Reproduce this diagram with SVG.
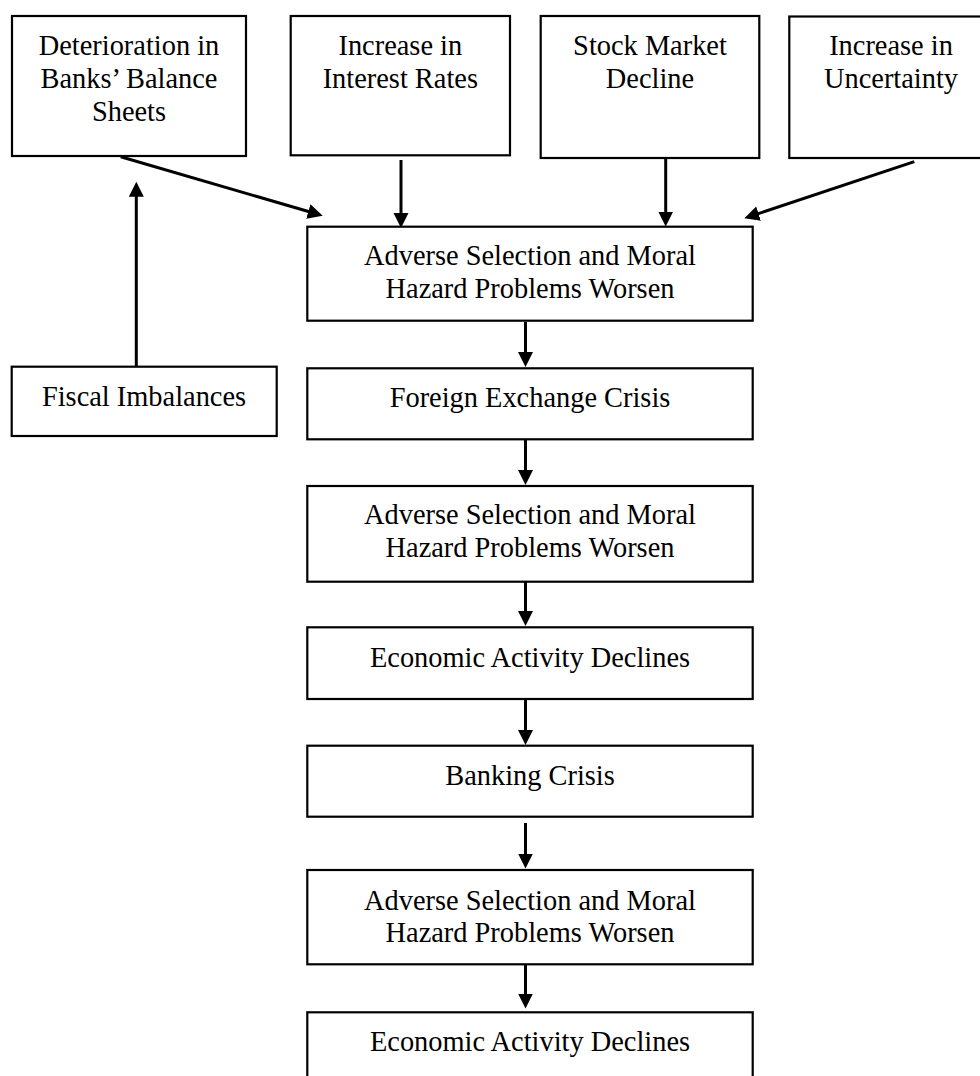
<svg xmlns="http://www.w3.org/2000/svg" width="980" height="1076" viewBox="0 0 980 1076">
<style>
.box{fill:#fff;stroke:#000;stroke-width:2.2}
.t{font-family:"Liberation Serif","Times New Roman",serif;font-size:28.4px;fill:#000;text-anchor:middle}
.c{stroke:#000;stroke-width:3;fill:none;marker-end:url(#ah)}
</style>
<defs>
<marker id="ah" markerUnits="userSpaceOnUse" markerWidth="16" markerHeight="16" refX="1" refY="7.5" orient="auto" viewBox="0 0 16 15">
<path d="M0,0 L15,7.5 L0,15 Z" fill="#000"/>
</marker>
</defs>
<rect width="980" height="1076" fill="#fff"/>
<g id="connectors">
<line class="c" x1="120.7" y1="156.7" x2="309.3" y2="211.8"/>
<line class="c" x1="401" y1="160" x2="401" y2="214"/>
<line class="c" x1="665.7" y1="158" x2="665.7" y2="212.5"/>
<line class="c" x1="914.3" y1="161.7" x2="757.6" y2="213.9"/>
<line class="c" x1="136.3" y1="366.7" x2="136.3" y2="195.7"/>
<line class="c" x1="525.5" y1="322" x2="525.5" y2="353"/>
<line class="c" x1="525.5" y1="440" x2="525.5" y2="471"/>
<line class="c" x1="525.5" y1="582" x2="525.5" y2="612"/>
<line class="c" x1="525.5" y1="700" x2="525.5" y2="731"/>
<line class="c" x1="525.5" y1="823" x2="525.5" y2="854.5"/>
<line class="c" x1="525.5" y1="963" x2="525.5" y2="994.5"/>
</g>
<g id="n-deterioration">
<rect class="box" x="12" y="16" width="234" height="140"/>
<text class="t" x="129" y="55">Deterioration in</text>
<text class="t" x="129" y="88">Banks’ Balance</text>
<text class="t" x="129" y="121">Sheets</text>
</g>
<g id="n-interest">
<rect class="box" x="290.7" y="16" width="219.3" height="139.3"/>
<text class="t" x="400.3" y="55">Increase in</text>
<text class="t" x="400.3" y="88">Interest Rates</text>
</g>
<g id="n-stock">
<rect class="box" x="540.7" y="16" width="218.6" height="142"/>
<text class="t" x="650" y="55">Stock Market</text>
<text class="t" x="650" y="88">Decline</text>
</g>
<g id="n-uncertainty">
<rect class="box" x="789.3" y="16.5" width="205" height="141.5"/>
<text class="t" x="891" y="55">Increase in</text>
<text class="t" x="891" y="88">Uncertainty</text>
</g>
<g id="n-fiscal">
<rect class="box" x="11.7" y="366.7" width="265" height="69.3"/>
<text class="t" x="144" y="406">Fiscal Imbalances</text>
</g>
<g id="n-adverse1">
<rect class="box" x="307.3" y="226.7" width="445.4" height="94"/>
<text class="t" x="530" y="265">Adverse Selection and Moral</text>
<text class="t" x="530" y="298">Hazard Problems Worsen</text>
</g>
<g id="n-foreign">
<rect class="box" x="307.3" y="368.3" width="445.4" height="71"/>
<text class="t" x="530" y="406.7">Foreign Exchange Crisis</text>
</g>
<g id="n-adverse2">
<rect class="box" x="307.3" y="486" width="445.4" height="95.7"/>
<text class="t" x="530" y="524.3">Adverse Selection and Moral</text>
<text class="t" x="530" y="557.3">Hazard Problems Worsen</text>
</g>
<g id="n-economic1">
<rect class="box" x="307.3" y="627.3" width="445.4" height="71.7"/>
<text class="t" x="530" y="666.7">Economic Activity Declines</text>
</g>
<g id="n-banking">
<rect class="box" x="307.3" y="745.7" width="445.4" height="71"/>
<text class="t" x="530" y="785">Banking Crisis</text>
</g>
<g id="n-adverse3">
<rect class="box" x="307.3" y="870" width="445.4" height="94.3"/>
<text class="t" x="530" y="910">Adverse Selection and Moral</text>
<text class="t" x="530" y="941.7">Hazard Problems Worsen</text>
</g>
<g id="n-economic2">
<rect class="box" x="307.3" y="1012.3" width="445.4" height="80"/>
<text class="t" x="530" y="1051">Economic Activity Declines</text>
</g>
</svg>
